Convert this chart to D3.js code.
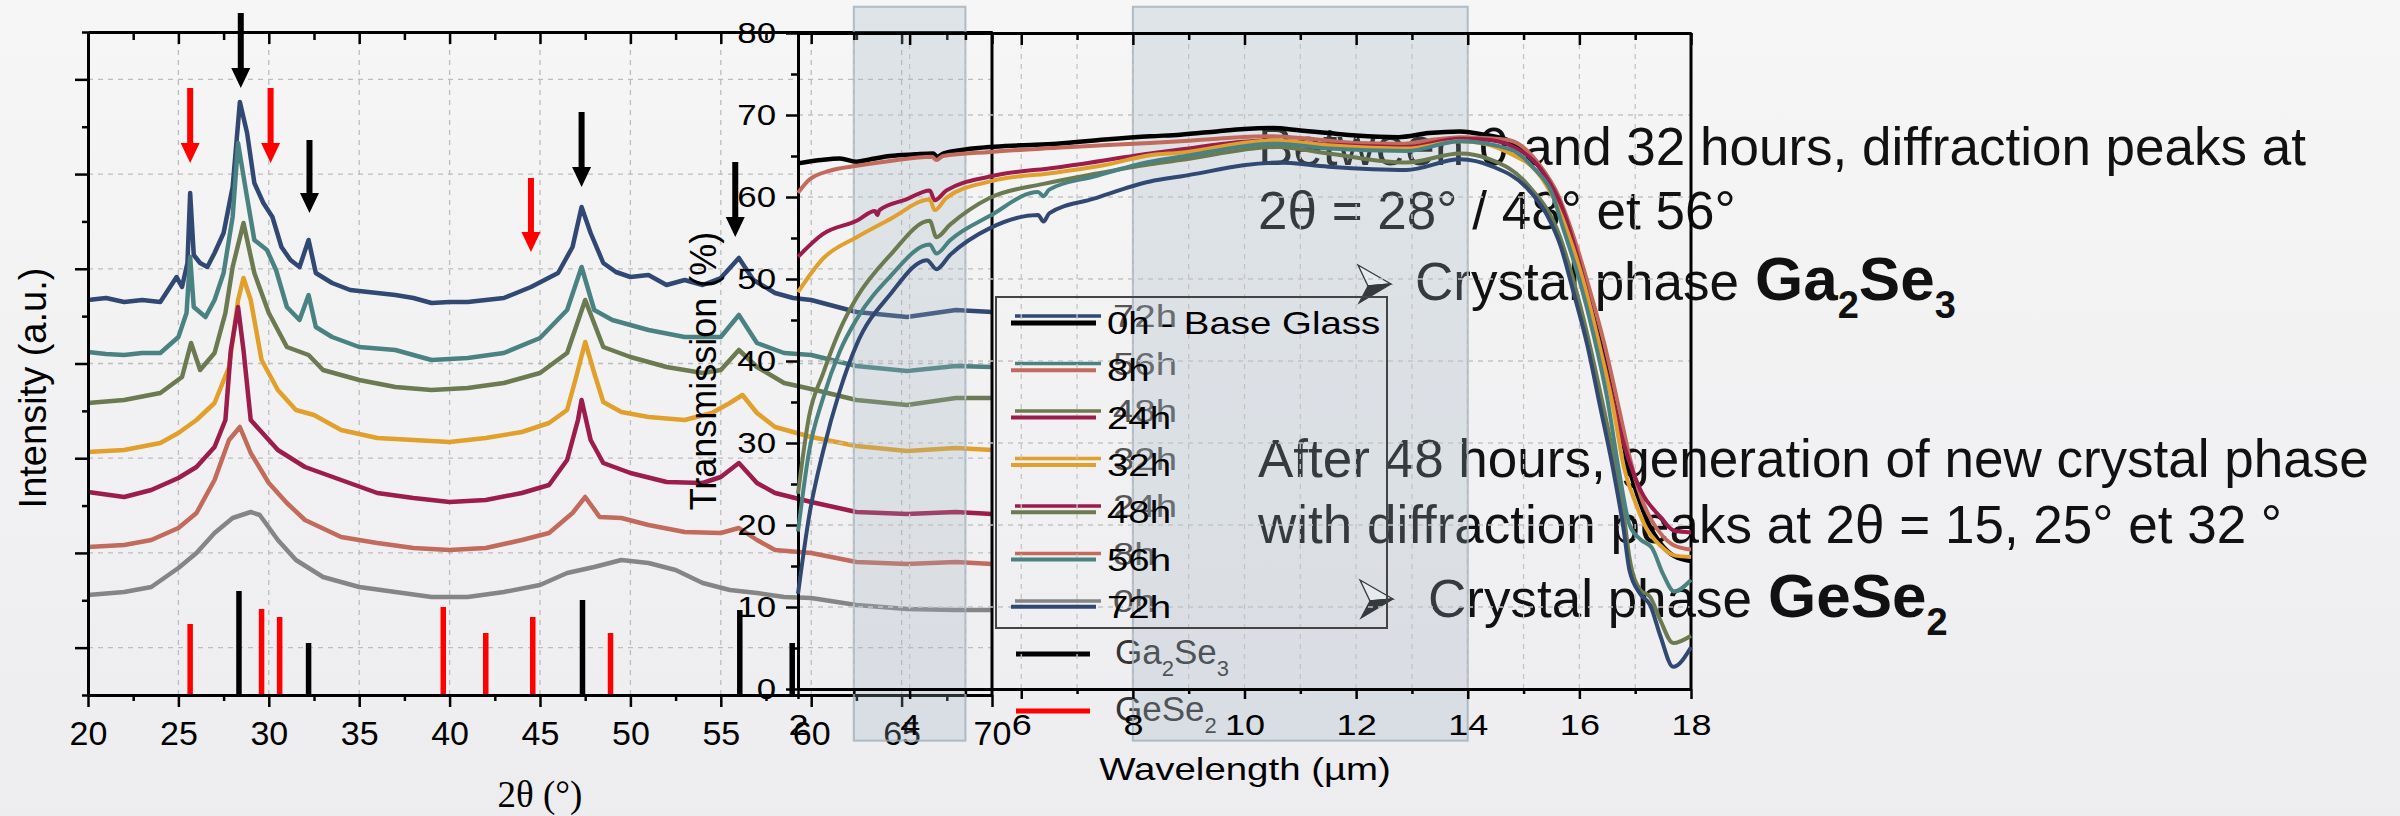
<!DOCTYPE html>
<html>
<head>
<meta charset="utf-8">
<script src="https://cdn.jsdelivr.net/npm/d3@7"></script>
<style>
  html, body { margin: 0; padding: 0; background: #f2f2f3; }
  svg { display: block; font-family: "Liberation Sans", Arial, sans-serif; }
</style>
</head>
<body>
<svg id="chart" width="2400" height="816"></svg>
<script>
// ---- XRD patterns: [2theta (deg), intensity (a.u., offset stacked)] ----
const xrd72h = [[20,395],[21,397],[22,393],[23,395],[24,393],[24.9,418],[25.2,408],[25.5,432],[25.65,502],[25.85,440],[26.2,432],[26.6,428],[27,442],[27.5,462],[28,508],[28.4,593],[28.8,562],[29.2,512],[29.7,492],[30.2,478],[30.7,448],[31.2,435],[31.7,428],[32.2,455],[32.6,422],[33.5,412],[34.5,405],[36,402],[37,400],[38,397],[39,392],[40,393],[41,393],[42,395],[43,397],[44.5,408],[46,422],[46.8,448],[47.3,488],[47.8,462],[48.5,432],[49.2,423],[50,418],[51,420],[52,410],[53,415],[54,410],[55,417],[56,437],[56.8,415],[58,402],[59,397],[60,395],[62.5,383],[65.3,378],[68,385],[70,383]];
const xrd56h = [[20,343],[21,341],[22,340],[23,342],[24,342],[25,358],[25.45,382],[25.65,438],[25.85,388],[26.5,378],[27,395],[27.5,422],[28,478],[28.3,552],[28.7,508],[29.2,455],[29.9,445],[30.4,425],[31,388],[31.7,375],[32.2,400],[32.6,368],[33.5,358],[35,348],[37,345],[39,335],[41,337],[43,342],[45,357],[46.5,385],[47.3,428],[48,385],[49,375],[51,365],[53,358],[55,358],[56,380],[57,352],[58.5,342],[60,340],[62.5,329],[65.3,324],[68,329],[70,328]];
const xrd48h = [[20,292],[22,295],[24,302],[25.2,318],[25.7,352],[26.2,325],[27,342],[27.6,382],[28,428],[28.6,472],[29.2,422],[30,382],[31,348],[32.2,340],[33,325],[35,315],[37,308],[39,305],[41,307],[43,312],[45,322],[46.5,342],[47.5,395],[48.5,348],[50,338],[52,328],[54,322],[55,325],[56,345],[57,328],[58.5,312],[60,306],[62.5,295],[65.3,290],[68,297],[70,297]];
const xrd32h = [[20,243],[22,245],[24,252],[25,262],[26,275],[27,292],[27.8,328],[28.3,395],[28.6,417],[29,395],[29.6,335],[30.5,305],[31.5,285],[32.5,280],[34,265],[36,257],[38,255],[40,253],[42,257],[44,263],[45.5,272],[46.5,285],[47,318],[47.5,353],[48,322],[48.5,293],[49.5,283],[51,278],[53,275],[54.5,282],[55.5,292],[56.2,300],[57,282],[58,268],[60,258],[62.5,249],[65.3,244],[68,247],[70,245]];
const xrd24h = [[20,203],[22,198],[23.5,205],[25,217],[26,228],[27,248],[27.6,275],[27.9,345],[28.3,388],[28.6,345],[29,275],[29.5,265],[30.5,245],[32,228],[34,215],[36,202],[38,197],[40,193],[42,195],[44,202],[45.5,210],[46.5,235],[47.1,275],[47.3,295],[47.8,255],[48.5,232],[50,222],[52,213],[54,212],[55,218],[56,232],[57,212],[58,202],[60,193],[62.5,183],[65.3,181],[68,183],[70,181]];
const xrd8h = [[20,148],[22,150],[23.5,155],[25,167],[26,182],[27,215],[27.8,255],[28.4,268],[29,242],[30,212],[31,192],[32,175],[34,158],[36,152],[38,147],[40,145],[42,147],[44,155],[45.5,162],[46.8,182],[47.5,198],[48.3,178],[49.5,177],[51,170],[53,163],[55,162],[56,167],[57,155],[58,145],[60,142],[62.5,133],[65.3,131],[68,133],[70,131]];
const xrd0h = [[20,100],[22,103],[23.5,108],[25,127],[26,142],[27,162],[28,177],[29,183],[29.5,180],[30.5,155],[31.5,135],[33,118],[35,108],[37,103],[39,98],[41,98],[43,103],[45,110],[46.5,122],[48,128],[49.5,135],[51,132],[52.5,125],[54,112],[55.5,105],[57,102],[58.5,98],[60,97],[62.5,90],[65.3,86],[68,85],[70,85]];

const xrdLabels = ['72h', '56h', '48h', '32h', '24h', '8h', '0h'];
const xrdColors = ['#304872', '#4a8282', '#6b7a50', '#e0a02b', '#9c1c4b', '#c26a5c', '#858585'];
const xrdData = [xrd72h, xrd56h, xrd48h, xrd32h, xrd24h, xrd8h, xrd0h];

// reference peak positions (JCPDS sticks)
const ga2se3Theta = [28.35, 32.2, 47.35, 56.05, 58.95];
const ga2se3Height = [104, 52, 95, 85, 52];
const gese2Theta = [25.65, 29.6, 30.6, 39.65, 42.0, 44.6, 48.9];
const gese2Height = [71, 86, 78, 88, 62, 78, 62];

// peak markers
const arrowTheta = [28.45, 32.25, 47.3, 55.8, 25.65, 30.1, 44.5];
const arrowFrom = [682, 555, 583, 533, 607, 607, 517];
const arrowTo = [607, 482, 508, 458, 532, 532, 443];
const arrowPhase = ['Ga2Se3', 'Ga2Se3', 'Ga2Se3', 'Ga2Se3', 'GeSe2', 'GeSe2', 'GeSe2'];

// ---- Transmission spectra: [wavelength (um), T (%)] ----
const trans0h = [[2.0,64.1],[2.4,64.5],[2.75,64.7],[3.05,64.3],[3.3,64.6],[3.65,65.0],[4.1,65.2],[4.42,65.3],[4.5,64.9],[4.6,65.3],[5.0,65.8],[5.44,66.1],[6.0,66.3],[6.64,66.5],[7.5,67.0],[8.31,67.4],[8.85,67.6],[9.5,68.0],[10.0,68.3],[10.5,68.4],[11.0,68.1],[11.5,67.8],[12.0,67.5],[12.75,67.3],[13.3,67.8],[13.86,68.0],[14.3,67.6],[14.76,66.8],[15.3,63.5],[15.6,60.0],[15.85,55.5],[16.15,49.0],[16.4,42.8],[16.65,35.0],[16.85,28.0],[17.05,23.5],[17.25,20.0],[17.45,17.8],[17.7,16.2],[18.0,15.6]];
const trans8h = [[2.0,60.5],[2.2,62.1],[2.57,63.2],[3.05,63.8],[3.65,64.4],[4.4,64.9],[4.48,64.5],[4.6,65.0],[5.44,65.5],[6.64,66.0],[8.31,66.6],[8.85,66.8],[9.7,67.2],[10.5,67.4],[11.3,67.0],[12.0,66.6],[12.8,66.5],[13.4,67.0],[13.86,67.3],[14.3,67.2],[14.76,66.9],[15.3,63.8],[15.6,60.5],[15.88,55.5],[16.18,48.8],[16.45,42.0],[16.7,34.5],[16.9,28.3],[17.1,23.5],[17.3,20.5],[17.5,18.6],[17.7,17.5],[18.0,17.0]];
const trans24h = [[2.0,52.7],[2.45,55.5],[3.05,57.1],[3.38,58.3],[3.42,57.8],[3.46,58.4],[3.94,59.7],[4.36,60.8],[4.45,59.6],[4.66,60.8],[5.44,62.5],[6.64,63.6],[8.31,65.3],[8.85,65.8],[10.4,66.9],[11.5,66.4],[12.88,66.1],[13.86,67.1],[14.3,67.0],[14.76,66.3],[15.4,62.5],[15.66,59.2],[15.93,53.6],[16.2,46.6],[16.5,38.2],[16.8,29.8],[17.1,24.2],[17.45,21.0],[17.7,19.3],[18.0,19.1]];
const trans32h = [[2.0,48.4],[2.45,52.5],[3.05,55.1],[3.65,57.3],[4.36,59.7],[4.45,58.4],[4.66,59.9],[5.44,61.9],[6.64,63.0],[7.5,63.9],[8.31,65.1],[8.85,65.4],[10.5,66.9],[11.5,66.3],[12.9,65.9],[13.86,66.8],[14.3,66.5],[14.76,65.3],[15.25,63.0],[15.55,59.7],[15.8,55.5],[16.1,49.0],[16.34,42.4],[16.6,34.5],[16.8,27.0],[17.0,22.8],[17.2,19.6],[17.45,17.5],[17.7,16.3],[18.0,16.1]];
const trans48h = [[2.0,23.8],[2.2,33.3],[2.45,38.5],[2.75,43.8],[3.05,47.7],[3.65,52.9],[4.36,57.1],[4.48,55.1],[4.72,56.6],[5.44,59.9],[6.4,61.6],[7.3,62.8],[8.31,64.0],[8.85,64.5],[10.6,66.1],[11.5,65.3],[12.9,64.2],[13.86,65.3],[14.4,64.6],[15.06,61.6],[15.66,55.0],[15.89,49.9],[16.14,43.3],[16.37,36.3],[16.61,28.4],[16.79,21.5],[16.9,15.9],[17.09,12.1],[17.27,11.2],[17.45,8.4],[17.68,5.6],[18.0,6.5]];
const trans56h = [[2.0,19.2],[2.2,29.0],[2.45,35.5],[2.75,41.2],[3.05,45.1],[3.65,50.3],[4.36,54.2],[4.48,53.1],[4.72,54.7],[5.44,57.7],[6.3,60.6],[6.4,60.1],[6.5,60.9],[7.3,62.5],[8.31,64.3],[8.85,64.9],[10.6,66.5],[11.5,65.9],[12.9,65.6],[13.86,66.8],[14.76,65.8],[15.2,63.4],[15.5,60.6],[15.7,56.4],[16.0,49.9],[16.25,43.3],[16.5,35.4],[16.7,27.0],[16.9,20.0],[17.1,18.2],[17.3,17.2],[17.5,14.0],[17.7,11.9],[18.0,13.3]];
const trans72h = [[2.0,11.6],[2.2,21.1],[2.45,29.0],[2.75,36.4],[3.05,42.0],[3.65,48.1],[4.31,52.3],[4.48,51.2],[4.72,52.9],[5.44,56.2],[6.3,57.8],[6.4,57.0],[6.5,58.0],[7.3,59.8],[8.31,61.9],[8.85,62.5],[10.6,64.2],[11.5,63.7],[12.9,63.3],[13.86,64.6],[14.45,63.7],[15.06,61.1],[15.42,57.8],[15.66,54.1],[15.89,48.5],[16.14,42.0],[16.37,34.5],[16.61,26.6],[16.79,19.6],[16.9,14.4],[17.09,11.6],[17.27,10.2],[17.45,6.5],[17.68,2.7],[18.0,5.1]];

const transLabels = ['0h - Base Glass', '8h', '24h', '32h', '48h', '56h', '72h'];
const transColors = ['#000000', '#c26a5c', '#9c1c4b', '#e0a02b', '#6b7a50', '#4a8282', '#304872'];
const transData = [trans0h, trans8h, trans24h, trans32h, trans48h, trans56h, trans72h];

// atmospheric windows highlighted (um)
const windows = [[3, 5], [8, 14]];

const noteTop = ['Between 0 and 32 hours, diffraction peaks at', '2θ = 28° / 48° et 56°'];
const noteBottom = ['After 48 hours, generation of new crystal phase', 'with diffraction peaks at 2θ = 15, 25° et 32 °'];

// ---------------------------------------------------------------
const FONT = '"Liberation Sans", Arial, sans-serif';
const svg = d3.select('#chart');

const grad = svg.append('defs').append('linearGradient')
  .attr('id', 'bg').attr('x1', 0).attr('y1', 0).attr('x2', 0).attr('y2', 1);
grad.append('stop').attr('offset', '0%').attr('stop-color', '#f6f6f6');
grad.append('stop').attr('offset', '100%').attr('stop-color', '#edecef');
svg.append('rect').attr('width', 2400).attr('height', 816).attr('fill', 'url(#bg)');

const xrdX = d3.scaleLinear().domain([20, 70]).range([88, 992]);
const xrdY = d3.scaleLinear().domain([0, 663]).range([695, 32]);
const trX = d3.scaleLinear().domain([2, 18]).range([798, 1691]);
const trY = d3.scaleLinear().domain([0, 80]).range([689, 33]);

const xrdYTicks = d3.range(15).map(i => i * 663 / 14);

function stretch(sel, k) {
  sel.each(function () {
    const w = this.getComputedTextLength();
    d3.select(this).attr('textLength', w * k).attr('lengthAdjust', 'spacingAndGlyphs');
  });
}

function styleAxis(g, size) {
  g.attr('font-family', FONT).attr('font-size', size);
  g.select('.domain').attr('stroke-width', 3).attr('stroke', '#000');
  g.selectAll('.tick line').attr('stroke-width', 2.5).attr('stroke', '#000');
  g.selectAll('.tick text').attr('fill', '#000');
}

// ---------------- XRD panel ----------------
const gXrd = svg.append('g');

const xrdGrid = gXrd.append('g')
  .attr('stroke', '#bdbdbd').attr('stroke-width', 1.3).attr('stroke-dasharray', '5,5');
xrdGrid.selectAll('line.v').data(d3.range(25, 70, 5)).join('line')
  .attr('x1', d => xrdX(d)).attr('x2', d => xrdX(d))
  .attr('y1', xrdY(0)).attr('y2', xrdY(663));
xrdGrid.selectAll('line.h').data(xrdYTicks.filter((d, i) => i % 2 === 1)).join('line')
  .attr('x1', xrdX(20)).attr('x2', xrdX(70))
  .attr('y1', d => xrdY(d)).attr('y2', d => xrdY(d));

const xrdLine = d3.line().x(d => xrdX(d[0])).y(d => xrdY(d[1]));
gXrd.append('g').selectAll('path').data(xrdData).join('path')
  .attr('d', xrdLine)
  .attr('fill', 'none')
  .attr('stroke', (d, i) => xrdColors[i])
  .attr('stroke-width', 4.5)
  .attr('stroke-linejoin', 'round');

// reference sticks
gXrd.append('g').selectAll('line').data(ga2se3Theta).join('line')
  .attr('x1', d => xrdX(d)).attr('x2', d => xrdX(d))
  .attr('y1', xrdY(0)).attr('y2', (d, i) => xrdY(ga2se3Height[i]))
  .attr('stroke', '#000').attr('stroke-width', 5.5);
gXrd.append('g').selectAll('line').data(gese2Theta).join('line')
  .attr('x1', d => xrdX(d)).attr('x2', d => xrdX(d))
  .attr('y1', xrdY(0)).attr('y2', (d, i) => xrdY(gese2Height[i]))
  .attr('stroke', '#ff0000').attr('stroke-width', 5.5);

// peak arrows
gXrd.append('g').selectAll('path').data(arrowTheta).join('path')
  .attr('d', (d, i) => {
    const x = xrdX(d), y0 = xrdY(arrowFrom[i]), y1 = xrdY(arrowTo[i]);
    return `M${x - 3},${y0}L${x + 3},${y0}L${x + 3},${y1 - 20}L${x + 9.5},${y1 - 20}L${x},${y1}L${x - 9.5},${y1 - 20}L${x - 3},${y1 - 20}Z`;
  })
  .attr('fill', (d, i) => arrowPhase[i] === 'Ga2Se3' ? '#000' : '#ff0000');

// XRD axes
const xrdBottom = gXrd.append('g').attr('transform', `translate(0,${xrdY(0)})`)
  .call(d3.axisBottom(xrdX).tickValues(d3.range(20, 71, 5)).tickSize(12).tickSizeOuter(0).tickPadding(14));
styleAxis(xrdBottom, 34);
gXrd.append('g').attr('transform', `translate(0,${xrdY(0)})`)
  .call(d3.axisBottom(xrdX).tickValues(d3.range(22.5, 70, 5)).tickSize(6).tickSizeOuter(0).tickFormat(''))
  .call(g => styleAxis(g, 34));
gXrd.append('g').attr('transform', `translate(0,${xrdY(663)})`)
  .call(d3.axisTop(xrdX).tickValues(d3.range(20, 71, 5)).tickSize(-12).tickSizeOuter(0).tickFormat(''))
  .call(g => styleAxis(g, 34));
gXrd.append('g').attr('transform', `translate(0,${xrdY(663)})`)
  .call(d3.axisTop(xrdX).tickValues(d3.range(22.5, 70, 5)).tickSize(-8).tickSizeOuter(0).tickFormat(''))
  .call(g => styleAxis(g, 34));
gXrd.append('g').attr('transform', `translate(${xrdX(20)},0)`)
  .call(d3.axisLeft(xrdY).tickValues(xrdYTicks.filter((d, i) => i % 2 === 1)).tickSize(13).tickSizeOuter(0).tickFormat(''))
  .call(g => styleAxis(g, 34));
gXrd.append('g').attr('transform', `translate(${xrdX(20)},0)`)
  .call(d3.axisLeft(xrdY).tickValues(xrdYTicks.filter((d, i) => i % 2 === 0)).tickSize(6).tickSizeOuter(0).tickFormat(''))
  .call(g => styleAxis(g, 34));
gXrd.append('line')
  .attr('x1', xrdX(70)).attr('x2', xrdX(70)).attr('y1', xrdY(663)).attr('y2', xrdY(0))
  .attr('stroke', '#000').attr('stroke-width', 3);

gXrd.append('text')
  .attr('transform', 'translate(33,388) rotate(-90)')
  .attr('text-anchor', 'middle').attr('dominant-baseline', 'central')
  .attr('font-size', 38).attr('fill', '#000')
  .text('Intensity (a.u.)');
gXrd.append('text')
  .attr('x', 540).attr('y', 807)
  .attr('text-anchor', 'middle')
  .attr('font-family', '"Liberation Serif", "Times New Roman", serif')
  .attr('font-size', 37).attr('fill', '#000')
  .text('2θ (°)');

// XRD legend (sits behind the transmission legend)
const xrdLeg = gXrd.append('g');
xrdLeg.selectAll('line').data(xrdLabels).join('line')
  .attr('x1', 1015).attr('x2', 1101)
  .attr('y1', (d, i) => 316 + i * 47.5).attr('y2', (d, i) => 316 + i * 47.5)
  .attr('stroke', (d, i) => xrdColors[i]).attr('stroke-width', 3.5);
xrdLeg.selectAll('text').data(xrdLabels).join('text')
  .attr('x', 1113).attr('y', (d, i) => 316 + i * 47.5)
  .attr('dominant-baseline', 'central')
  .attr('font-size', 32).attr('fill', '#555')
  .text(d => d)
  .call(stretch, 1.2);

// reference legend
const refLeg = gXrd.append('g');
[['Ga', '2', 'Se', '3'], ['GeSe', '2']].forEach((parts, r) => {
  const y = r === 0 ? 654 : 711;
  refLeg.append('line')
    .attr('x1', 1016).attr('x2', 1090).attr('y1', y).attr('y2', y)
    .attr('stroke', r === 0 ? '#000' : '#ff0000').attr('stroke-width', 5);
  const t = refLeg.append('text')
    .attr('x', 1115).attr('y', y + 10)
    .attr('font-size', 35).attr('fill', '#333');
  parts.forEach((p, j) => {
    const sub = j % 2 === 1;
    t.append('tspan')
      .attr('font-size', sub ? 22 : 35)
      .attr('dy', sub ? 12 : (j > 0 ? -12 : 0))
      .text(p);
  });
});

// ---------------- annotations ----------------
const gNote = svg.append('g').attr('fill', '#111').attr('font-size', 53);
noteTop.forEach((s, i) => gNote.append('text').attr('x', 1258).attr('y', [165, 229][i]).text(s));
noteBottom.forEach((s, i) => gNote.append('text').attr('x', 1258).attr('y', [477, 543][i]).text(s));

function bullet(x, yTop, yBot) {
  const mid = (yTop + yBot) / 2, tip = x + 33, notch = x + 10;
  gNote.append('path')
    .attr('d', `M${x},${yTop}L${tip},${mid}L${notch},${mid + 2}Z`)
    .attr('fill', '#fff').attr('stroke', '#111').attr('stroke-width', 1.3);
  gNote.append('path')
    .attr('d', `M${notch},${mid + 2}L${tip},${mid}L${x + 1},${yBot}Z`)
    .attr('fill', '#111').attr('stroke', '#111').attr('stroke-width', 1.3);
}
function phaseLine(x, y, xBold, parts) {
  const t = gNote.append('text').attr('x', x).attr('y', y);
  t.append('tspan').text('Crystal phase ');
  parts.forEach((p, j) => {
    const sub = j % 2 === 1;
    const ts = t.append('tspan')
      .attr('font-weight', 'bold')
      .attr('font-size', sub ? 38 : 62)
      .attr('dy', sub ? 18 : (j > 0 ? -18 : 0))
      .text(p);
    if (j === 0) ts.attr('x', xBold);
  });
}
bullet(1358, 265, 303);
phaseLine(1415, 300, 1755, ['Ga', '2', 'Se', '3']);
bullet(1360, 580, 618);
phaseLine(1428, 617, 1768, ['GeSe', '2']);

// ---------------- highlighted windows ----------------
svg.append('g').selectAll('rect').data(windows).join('rect')
  .attr('x', d => trX(d[0])).attr('width', d => trX(d[1]) - trX(d[0]))
  .attr('y', trY(83.2)).attr('height', trY(-6.3) - trY(83.2))
  .attr('fill', '#9fb0c0').attr('fill-opacity', 0.26)
  .attr('stroke', '#9fb0bd').attr('stroke-opacity', 0.8).attr('stroke-width', 2);

// ---------------- Transmission panel ----------------
const gTr = svg.append('g');

const trGrid = gTr.append('g')
  .attr('stroke', '#c4c4c4').attr('stroke-width', 1.3).attr('stroke-dasharray', '5,5');
trGrid.selectAll('line.v').data(d3.range(3, 18, 1)).join('line')
  .attr('x1', d => trX(d)).attr('x2', d => trX(d))
  .attr('y1', trY(0)).attr('y2', trY(80));
trGrid.selectAll('line.h').data(d3.range(10, 80, 10)).join('line')
  .attr('x1', trX(2)).attr('x2', trX(18))
  .attr('y1', d => trY(d)).attr('y2', d => trY(d));

const trBottom = gTr.append('g').attr('transform', `translate(0,${trY(0)})`)
  .call(d3.axisBottom(trX).tickValues(d3.range(2, 19, 2)).tickSize(10).tickSizeOuter(0).tickPadding(15));
styleAxis(trBottom, 30);
trBottom.selectAll('.tick text').call(stretch, 1.2);
gTr.append('g').attr('transform', `translate(0,${trY(0)})`)
  .call(d3.axisBottom(trX).tickValues(d3.range(3, 18, 2)).tickSize(5).tickSizeOuter(0).tickFormat(''))
  .call(g => styleAxis(g, 30));
gTr.append('g').attr('transform', `translate(0,${trY(80)})`)
  .call(d3.axisTop(trX).tickValues(d3.range(2, 19, 2)).tickSize(-12).tickSizeOuter(0).tickFormat(''))
  .call(g => styleAxis(g, 30));
gTr.append('g').attr('transform', `translate(0,${trY(80)})`)
  .call(d3.axisTop(trX).tickValues(d3.range(3, 18, 2)).tickSize(-7).tickSizeOuter(0).tickFormat(''))
  .call(g => styleAxis(g, 30));
const trLeft = gTr.append('g').attr('transform', `translate(${trX(2)},0)`)
  .call(d3.axisLeft(trY).tickValues(d3.range(0, 81, 10)).tickSize(12).tickSizeOuter(0).tickPadding(10));
styleAxis(trLeft, 29);
trLeft.selectAll('.tick text').call(stretch, 1.2);
gTr.append('g').attr('transform', `translate(${trX(2)},0)`)
  .call(d3.axisLeft(trY).tickValues(d3.range(5, 80, 10)).tickSize(7).tickSizeOuter(0).tickFormat(''))
  .call(g => styleAxis(g, 29));
gTr.append('line')
  .attr('x1', trX(18)).attr('x2', trX(18)).attr('y1', trY(80)).attr('y2', trY(0))
  .attr('stroke', '#000').attr('stroke-width', 3);

gTr.append('text')
  .attr('x', 1245).attr('y', 780)
  .attr('text-anchor', 'middle')
  .attr('font-size', 32).attr('fill', '#000')
  .text('Wavelength (µm)')
  .call(stretch, 1.2);
gTr.append('text')
  .attr('transform', 'translate(703,371) rotate(-90)')
  .attr('text-anchor', 'middle').attr('dominant-baseline', 'central')
  .attr('font-size', 36).attr('fill', '#000')
  .text('Transmission (%)');

const trLine = d3.line().x(d => trX(d[0])).y(d => trY(d[1])).curve(d3.curveMonotoneX);
gTr.append('g').selectAll('path').data(transData).join('path')
  .attr('d', trLine)
  .attr('fill', 'none')
  .attr('stroke', (d, i) => transColors[i])
  .attr('stroke-width', (d, i) => i === 0 ? 4.5 : 4)
  .attr('stroke-linejoin', 'round');

// transmission legend
const trLeg = gTr.append('g');
trLeg.append('rect')
  .attr('x', 996).attr('y', 297).attr('width', 391).attr('height', 331)
  .attr('fill', 'none').attr('stroke', '#444').attr('stroke-width', 2);
trLeg.selectAll('line').data(transLabels).join('line')
  .attr('x1', 1011).attr('x2', 1096)
  .attr('y1', (d, i) => 323 + i * 47.3).attr('y2', (d, i) => 323 + i * 47.3)
  .attr('stroke', (d, i) => transColors[i])
  .attr('stroke-width', (d, i) => i === 0 ? 5 : 4);
trLeg.selectAll('text').data(transLabels).join('text')
  .attr('x', 1107).attr('y', (d, i) => 323 + i * 47.3)
  .attr('dominant-baseline', 'central')
  .attr('font-size', 32).attr('fill', '#000')
  .text(d => d)
  .call(stretch, 1.2);
</script>
</body>
</html>
